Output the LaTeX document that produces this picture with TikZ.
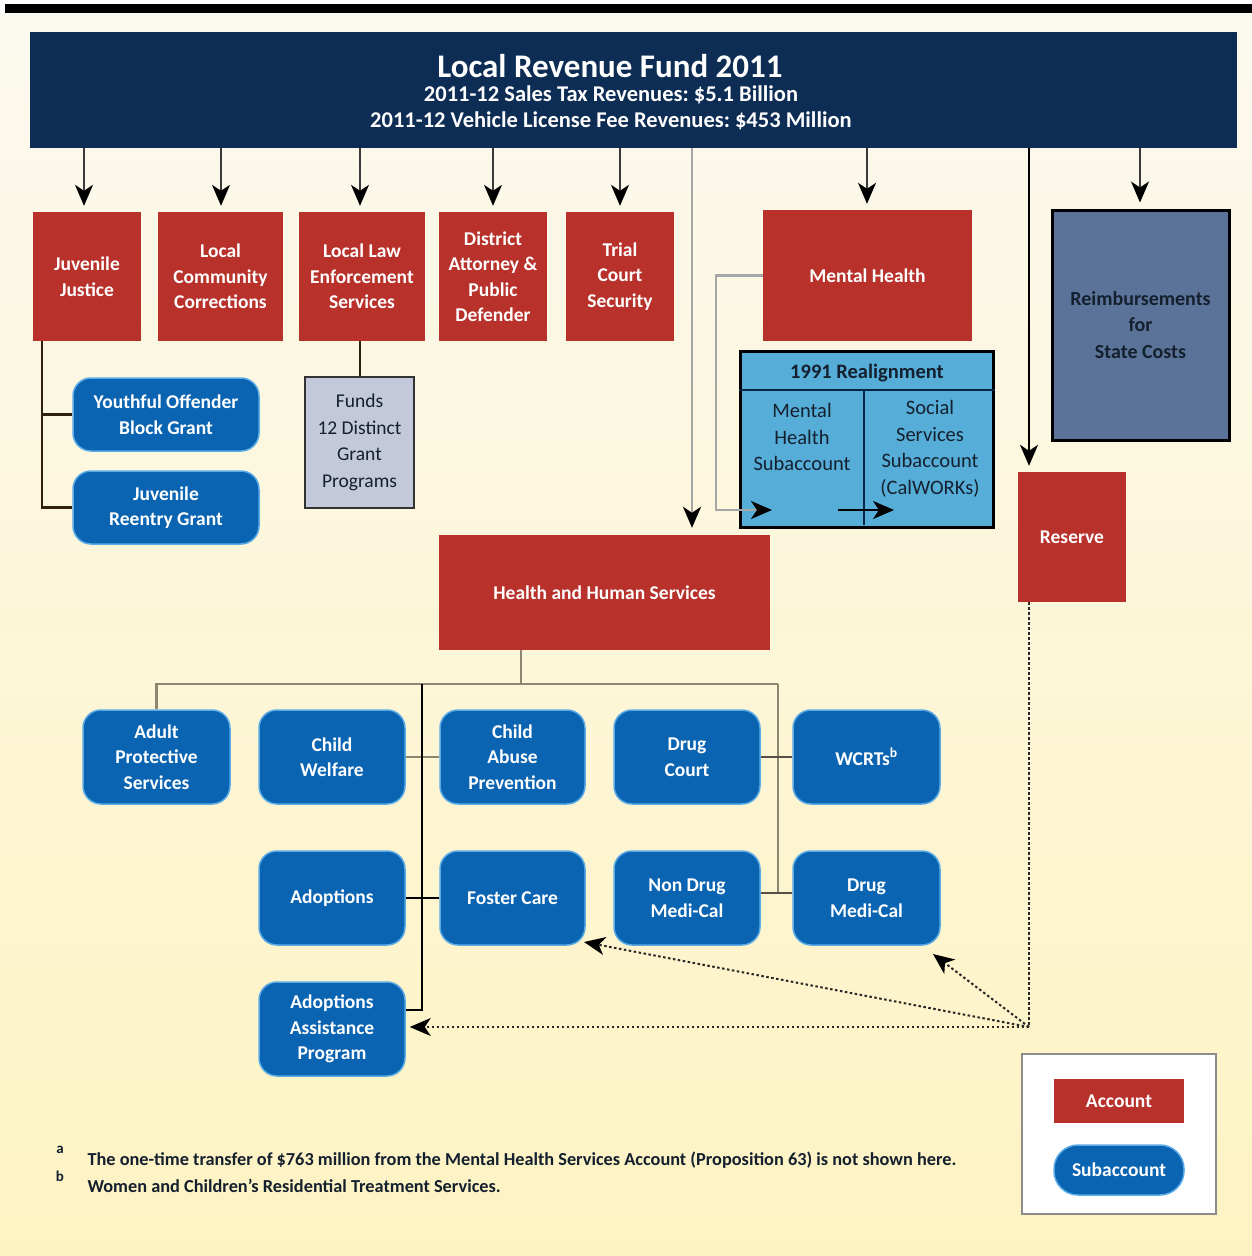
\documentclass[tikz,border=0pt]{standalone}
\usepackage{fontspec}
\setmainfont{Carlito}
\frenchspacing
\usetikzlibrary{arrows.meta,positioning}
\definecolor{navy}{HTML}{0D2D54}
\definecolor{acred}{HTML}{B8312B}
\definecolor{subblue}{HTML}{0A64B2}
\definecolor{subedge}{HTML}{5AAAE6}
\definecolor{realblue}{HTML}{56AED8}
\definecolor{reimbc}{HTML}{5B7399}
\definecolor{fundsc}{HTML}{C3C9DA}
\definecolor{bgtop}{HTML}{FCF9EF}
\definecolor{bgbot}{HTML}{FDF3C2}
\definecolor{treeg}{HTML}{8C8670}
\definecolor{shaftg}{HTML}{3A3A3A}
\definecolor{darktxt}{HTML}{14202E}
\tikzset{
  acct/.style={draw=none, fill=acred, text=white, font=\bfseries\fontsize{19.5}{25.5}\selectfont, align=center, inner sep=2pt},
  sub/.style={draw=subedge, line width=1.5pt, fill=subblue, rounded corners=18pt, text=white, font=\bfseries\fontsize{19.5}{25.5}\selectfont, align=center, inner sep=2pt},
  arr/.style={draw=shaftg, line width=1.6pt, -{Stealth[length=21pt,width=18pt,inset=6pt,black]}},
  garr/.style={draw=gray!70, line width=2.5pt, -{Stealth[length=21pt,width=18pt,inset=6pt,black]}},
  tline/.style={draw=treeg, line width=2.6pt},
  bline/.style={draw=black, line width=2pt},
  jline/.style={draw=black!75!brown, line width=2.4pt},
  dotl/.style={draw=black!85, line width=2pt, dash pattern=on 2.5pt off 2.5pt},
  dotarr/.style={dotl, -{Stealth[length=21pt,width=18pt,inset=6pt,black]}},
}
\begin{document}
\begin{tikzpicture}[x=1pt,y=-1pt]
\useasboundingbox (0,0) rectangle (1252,1256);
% background
\shade[top color=bgtop, bottom color=bgbot] (0,13) rectangle (1252,1256);
\fill[white] (0,0) rectangle (1252,4);
\fill[black] (5,4) rectangle (1252,13);

% header
\node[fill=navy, minimum width=1207pt, minimum height=116pt, inner sep=0pt] (hdr) at (633.5,90) {};
\node[text=white, font=\bfseries\fontsize{33}{36}\selectfont] (ttl) at (610,66) {Local Revenue Fund 2011};
\node[text=white, font=\bfseries\fontsize{22.5}{26}\selectfont, align=center] (st1) at (611,95) {2011-12 Sales Tax Revenues: \$5.1 Billion};
\node[text=white, font=\bfseries\fontsize{22.5}{26}\selectfont, align=center] (st2) at (611,121) {2011-12 Vehicle License Fee Revenues: \$453 Million};

% top accounts
\node[acct, minimum width=108pt, minimum height=129pt] (jj) at (87,276.5) {Juvenile\\Justice};
\node[acct, minimum width=125pt, minimum height=129pt] (lcc) at (220.5,276.5) {Local\\Community\\Corrections};
\node[acct, minimum width=126pt, minimum height=129pt] (lles) at (362,276.5) {Local Law\\Enforcement\\Services};
\node[acct, minimum width=108pt, minimum height=129pt] (dapd) at (493,276.5) {District\\Attorney \&\\Public\\Defender};
\node[acct, minimum width=108pt, minimum height=129pt] (tcs) at (620,276.5) {Trial\\Court\\Security};
\node[acct, minimum width=209pt, minimum height=131pt] (mh) at (867.5,275.5) {Mental Health};
\node[draw=black, line width=3pt, fill=reimbc, text=darktxt, font=\bfseries\fontsize{20}{26.5}\selectfont, align=center, minimum width=177pt, minimum height=230pt] (reimb) at (1140.5,325) {Reimbursements\\for\\State Costs};
\node[acct, minimum width=108pt, minimum height=130pt] (reserve) at (1072,537) {Reserve};
\node[acct, minimum width=331pt, minimum height=115pt] (hhs) at (604.5,592.5) {Health and Human Services};

% realignment
\node[draw=black, line width=3pt, fill=realblue, minimum width=253pt, minimum height=176pt] (realign) at (866.5,439) {};
\node[text=darktxt, font=\bfseries\fontsize{20.5}{26}\selectfont] (rt1) at (867,373) {1991 Realignment};
\node[text=darktxt, font=\fontsize{20.5}{26.5}\selectfont, align=center] (rms) at (802,437) {Mental\\Health\\Subaccount};
\node[text=darktxt, font=\fontsize{20.5}{26.5}\selectfont, align=center, anchor=north] (rss) at (930,397) {Social\\Services\\Subaccount\\(CalWORKs)};
\draw[draw=navy!80!black, line width=2pt] (realign.west |- 0,390) -- (realign.east |- 0,390);
\draw[draw=navy!80!black, line width=2pt] (864,390) -- (864,525);

% juvenile justice subaccounts
\node[sub, minimum width=186pt, minimum height=73pt] (yob) at (166,414.5) {Youthful Offender\\Block Grant};
\node[sub, minimum width=186pt, minimum height=73pt] (jrg) at (166,507.5) {Juvenile\\Reentry Grant};
\node[draw=black!80, line width=2pt, fill=fundsc, text=darktxt, font=\fontsize{19.5}{26.5}\selectfont, align=center, minimum width=109pt, minimum height=131pt] (funds) at (359.5,442.5) {Funds\\12 Distinct\\Grant\\Programs};

% HHS subaccounts
\node[sub, minimum width=147pt, minimum height=94pt] (aps) at (156.5,757) {Adult\\Protective\\Services};
\node[sub, minimum width=146pt, minimum height=94pt] (cw) at (332,757) {Child\\Welfare};
\node[sub, minimum width=145pt, minimum height=94pt] (cap) at (512.5,757) {Child\\Abuse\\Prevention};
\node[sub, minimum width=146pt, minimum height=94pt] (dc) at (687,757) {Drug\\Court};
\node[sub, minimum width=147pt, minimum height=94pt] (wcrt) at (866.5,757) {WCRTs\textsuperscript{b}};
\node[sub, minimum width=146pt, minimum height=94pt] (adopt) at (332,898) {Adoptions};
\node[sub, minimum width=145pt, minimum height=94pt] (foster) at (512.5,898) {Foster Care};
\node[sub, minimum width=146pt, minimum height=94pt] (ndmc) at (687,898) {Non Drug\\Medi-Cal};
\node[sub, minimum width=147pt, minimum height=94pt] (dmc) at (866.5,898) {Drug\\Medi-Cal};
\node[sub, minimum width=146pt, minimum height=94pt] (aap) at (332,1029) {Adoptions\\Assistance\\Program};

% arrows from header
\foreach \n/\xx in {jj/84, lcc/221, lles/360, dapd/493, tcs/620, mh/867, reimb/1140}{
  \draw[arr, shorten >=6pt] (hdr.south -| \xx,0) -- (\n.north -| \xx,0);
}
\coordinate (hx) at (692,148);
\draw[garr, shorten >=7pt] (hx) -- (hx |- hhs.north);
\coordinate (rx) at (1029,148);
\draw[arr, draw=black, line width=2pt, shorten >=6pt] (rx) -- (rx |- reserve.north);

% mental health to realignment
\coordinate (mhA) at (772,510);
\draw[garr] (mh.west) -- ++(-47,0) |- (mhA);
\coordinate (ia) at (838,510);
\coordinate (ib) at (894,510);
\draw[arr, draw=black, line width=2pt] (ia) -- (ib);

% juvenile justice tree
\coordinate (jjx) at (42,341);
\draw[jline] (jjx) |- (jrg.west);
\draw[jline] (jjx |- yob.west) -- (yob.west);
\draw[jline] (lles.south -| 360,0) -- (funds.north -| 360,0);

% HHS tree
\coordinate (ht) at (521,684);
\coordinate (rt) at (778,684);
\coordinate (lt) at (422,684);
\coordinate (lb) at (422,1010);
\draw[tline] (hhs.south -| ht) -- (ht);
\draw[tline] (aps.north) |- (rt);
\draw[tline] (rt) -- (778,893);
\draw[tline] (cw.east) -- (cap.west);
\draw[tline, draw=treeg!60!black] (dc.east) -- (wcrt.west);
\draw[tline, draw=treeg!60!black] (ndmc.east |- 0,893) -- (dmc.west |- 0,893);
\draw[bline] (lt) -- (lb) -- (lb -| aap.east);
\draw[bline] (adopt.east) -- (foster.west);

% reserve dotted arrows
\coordinate (rb) at (1029,1027);
\coordinate (fosterTip) at (584,942);
\coordinate (dmcTip) at (933,954);
\draw[dotl] (reserve.south -| rb) -- (rb);
\draw[dotarr, shorten >=4pt] (rb) -- (aap.east |- rb);
\draw[dotarr] (rb) -- (fosterTip);
\draw[dotarr] (rb) -- (dmcTip);

% legend
\node[draw=black!45, line width=2.5pt, fill=white, minimum width=194pt, minimum height=160pt] (leg) at (1119,1134) {};
\node[acct, minimum width=130pt, minimum height=44pt] (legacct) at (1119,1101) {Account};
\node[sub, rounded corners=24pt, minimum width=130pt, minimum height=50pt] (legsub) at (1119,1170) {Subaccount};

% footnotes
\node[text=darktxt, font=\bfseries\fontsize{15}{18}\selectfont] (fa) at (60,1150) {a};
\node[text=darktxt, font=\bfseries\fontsize{15}{18}\selectfont] (fb) at (60,1176) {b};
\node[text=darktxt, font=\bfseries\fontsize{18.3}{20}\selectfont, anchor=west] (f1) at (84,1160) {The one-time transfer of \$763 million from the Mental Health Services Account (Proposition 63) is not shown here.};
\node[text=darktxt, font=\bfseries\fontsize{18.3}{20}\selectfont, anchor=west] (f2) at (84,1186) {Women and Children's Residential Treatment Services.};
\end{tikzpicture}
\end{document}
